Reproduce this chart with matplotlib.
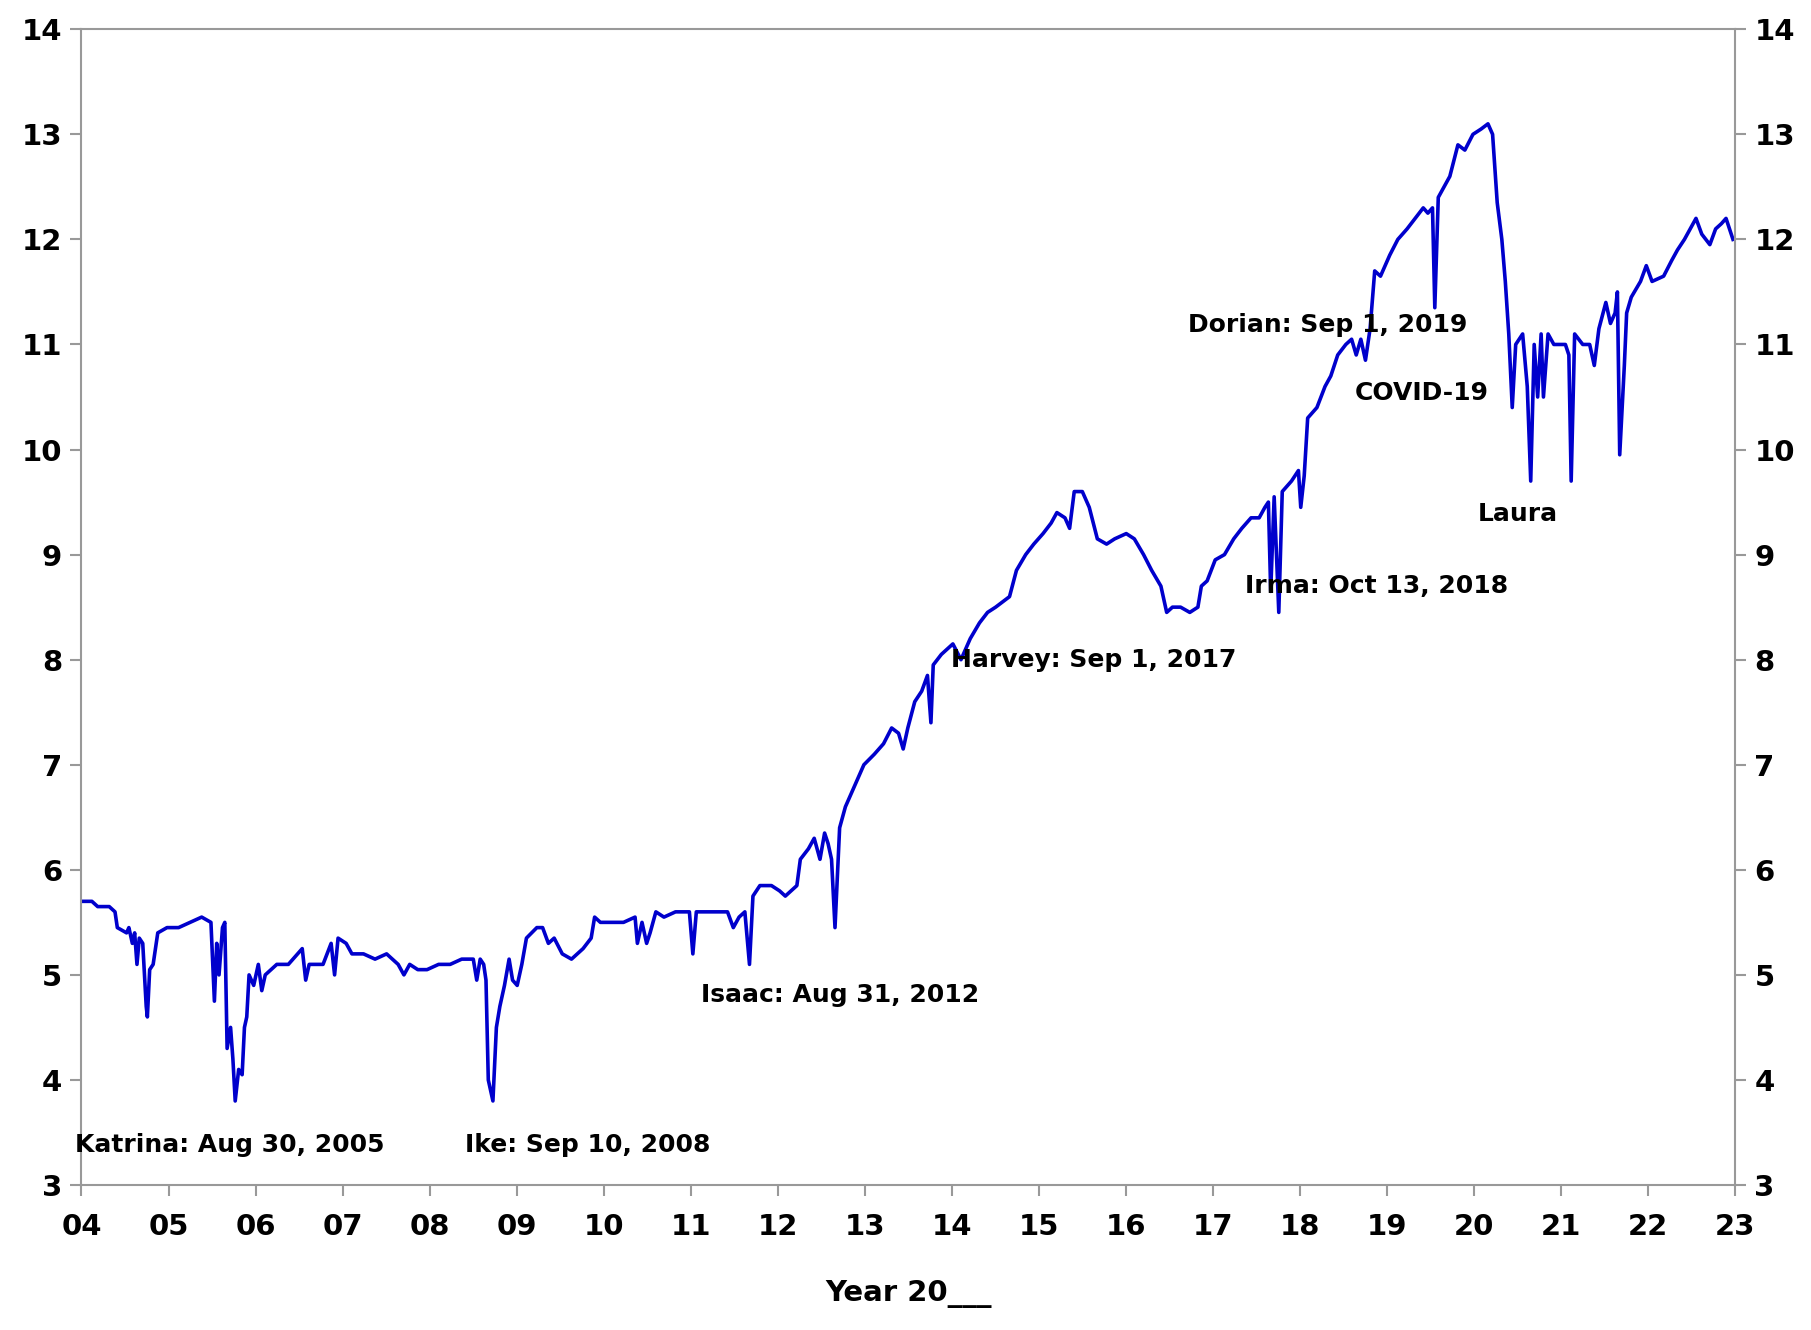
import numpy as np
import matplotlib.pyplot as plt

# series: horizontal position (px on reference) and value
px = [71, 80, 85, 95, 100, 102, 110, 112, 115, 117, 119, 121, 124, 127, 128, 130, 133, 137, 145, 155,
      165, 175, 183, 186, 188, 190, 193, 195, 197, 200, 202, 204, 207, 210, 212, 214, 216, 220, 224, 227,
      230, 240, 250, 258, 262, 265, 268, 280, 287, 290, 293, 300, 305, 315, 325, 335, 345, 350, 355, 362,
      370, 380, 390, 400, 410, 413, 416, 419, 421, 423, 427, 430, 433, 437, 441, 444, 448, 452, 456, 465,
      470, 475, 480, 487, 495, 505, 512, 515, 520, 530, 540, 550, 552, 556, 560, 563, 568, 575, 585, 597,
      600, 603, 615, 630, 635, 640, 645, 649, 652, 658, 668, 675, 680, 685, 690, 693, 700, 705, 710, 714,
      717, 720, 723, 727, 732, 740, 748, 757, 765, 772, 778, 782, 786, 792, 798, 803, 806, 808, 815, 825,
      832, 840, 848, 855, 862, 868, 874, 880, 888, 895, 903, 910, 915, 922, 926, 930, 937, 943, 950, 958,
      965, 975, 982, 990, 997, 1005, 1010, 1015, 1022, 1030, 1037, 1040, 1045, 1052, 1060, 1068, 1075, 1083, 1090, 1095,
      1098, 1100, 1103, 1107, 1110, 1118, 1124, 1126, 1129, 1132, 1140, 1147, 1152, 1158, 1165, 1170, 1174, 1178, 1182, 1186,
      1190, 1195, 1203, 1210, 1218, 1225, 1232, 1236, 1240, 1242, 1245, 1250, 1255, 1262, 1268, 1275, 1282, 1288, 1292, 1296,
      1300, 1303, 1306, 1309, 1312, 1318, 1322, 1325, 1328, 1331, 1334, 1336, 1340, 1345, 1355, 1358, 1360, 1363, 1370, 1376,
      1380, 1384, 1390, 1394, 1398, 1400, 1402, 1406, 1408, 1412, 1420, 1425, 1430, 1440, 1447, 1452, 1458, 1463, 1468, 1473,
      1480, 1485, 1490, 1494, 1500]
vals = [5.7, 5.7, 5.65, 5.65, 5.6, 5.45, 5.4, 5.45, 5.3, 5.4, 5.1, 5.35, 5.3, 4.7, 4.6, 5.05, 5.1, 5.4, 5.45, 5.45,
        5.5, 5.55, 5.5, 4.75, 5.3, 5.0, 5.45, 5.5, 4.3, 4.5, 4.2, 3.8, 4.1, 4.05, 4.5, 4.6, 5.0, 4.9, 5.1, 4.85,
        5.0, 5.1, 5.1, 5.2, 5.25, 4.95, 5.1, 5.1, 5.3, 5.0, 5.35, 5.3, 5.2, 5.2, 5.15, 5.2, 5.1, 5.0, 5.1, 5.05,
        5.05, 5.1, 5.1, 5.15, 5.15, 4.95, 5.15, 5.1, 4.95, 4.0, 3.8, 4.5, 4.7, 4.9, 5.15, 4.95, 4.9, 5.1, 5.35, 5.45,
        5.45, 5.3, 5.35, 5.2, 5.15, 5.25, 5.35, 5.55, 5.5, 5.5, 5.5, 5.55, 5.3, 5.5, 5.3, 5.4, 5.6, 5.55, 5.6, 5.6,
        5.2, 5.6, 5.6, 5.6, 5.45, 5.55, 5.6, 5.1, 5.75, 5.85, 5.85, 5.8, 5.75, 5.8, 5.85, 6.1, 6.2, 6.3, 6.1, 6.35,
        6.25, 6.1, 5.45, 6.4, 6.6, 6.8, 7.0, 7.1, 7.2, 7.35, 7.3, 7.15, 7.35, 7.6, 7.7, 7.85, 7.4, 7.95, 8.05, 8.15,
        8.0, 8.2, 8.35, 8.45, 8.5, 8.55, 8.6, 8.85, 9.0, 9.1, 9.2, 9.3, 9.4, 9.35, 9.25, 9.6, 9.6, 9.45, 9.15, 9.1,
        9.15, 9.2, 9.15, 9.0, 8.85, 8.7, 8.45, 8.5, 8.5, 8.45, 8.5, 8.7, 8.75, 8.95, 9.0, 9.15, 9.25, 9.35, 9.35, 9.45,
        9.5, 8.65, 9.55, 8.45, 9.6, 9.7, 9.8, 9.45, 9.75, 10.3, 10.4, 10.6, 10.7, 10.9, 11.0, 11.05, 10.9, 11.05, 10.85, 11.15,
        11.7, 11.65, 11.85, 12.0, 12.1, 12.2, 12.3, 12.25, 12.3, 11.35, 12.4, 12.5, 12.6, 12.9, 12.85, 13.0, 13.05, 13.1, 13.0, 12.35,
        12.0, 11.6, 11.1, 10.4, 11.0, 11.1, 10.6, 9.7, 11.0, 10.5, 11.1, 10.5, 11.1, 11.0, 11.0, 10.9, 9.7, 11.1, 11.0, 11.0,
        10.8, 11.15, 11.4, 11.2, 11.3, 11.5, 9.95, 10.8, 11.3, 11.45, 11.6, 11.75, 11.6, 11.65, 11.8, 11.9, 12.0, 12.1, 12.2, 12.05,
        11.95, 12.1, 12.15, 12.2, 12.0]

years = (np.array(px) - 71) / 75.3   # years since 2004
tick_labels = ['%02d' % y for y in range(4, 24)]

notes = [('Katrina: Aug 30, 2005', -0.08, 3.38), ('Ike: Sep 10, 2008', 4.41, 3.38),
         ('Isaac: Aug 31, 2012', 7.12, 4.81), ('Harvey: Sep 1, 2017', 9.99, 8.0),
         ('Irma: Oct 13, 2018', 13.37, 8.7), ('Dorian: Sep 1, 2019', 12.71, 11.19),
         ('COVID-19', 14.63, 10.54), ('Laura', 16.04, 9.39)]

fig = plt.figure(figsize=(18.11, 13.30), dpi=100)
ax = fig.add_axes([0.045, 0.109, 0.913, 0.869])
ax.plot(years, vals, color='#0000cc', lw=2.6)
ax.set_xlim(0, 19)
ax.set_ylim(3, 14)
ax.set_xticks(range(20))
ax.set_xticklabels(tick_labels)
ax.set_yticks(range(3, 15))
for s in ax.spines.values():
    s.set_color('#999999')
    s.set_linewidth(1.5)
ax.tick_params(direction='out', length=8, width=1.5, color='#999999', labelsize=21,
               right=True, labelright=True, pad=6)
ax.tick_params(axis='x', pad=12)
for t in ax.get_xticklabels() + ax.get_yticklabels() + ax.yaxis.get_ticklabels(which='both'):
    t.set_fontweight('bold')
for t in ax.yaxis.get_majorticklabels():
    t.set_fontweight('bold')
ax.set_xlabel('Year 20___', fontsize=21, fontweight='bold', labelpad=28)
for txt, x, y in notes:
    ax.text(x, y, txt, fontsize=18, fontweight='bold', va='center', ha='left')
fig.savefig('out.png')
